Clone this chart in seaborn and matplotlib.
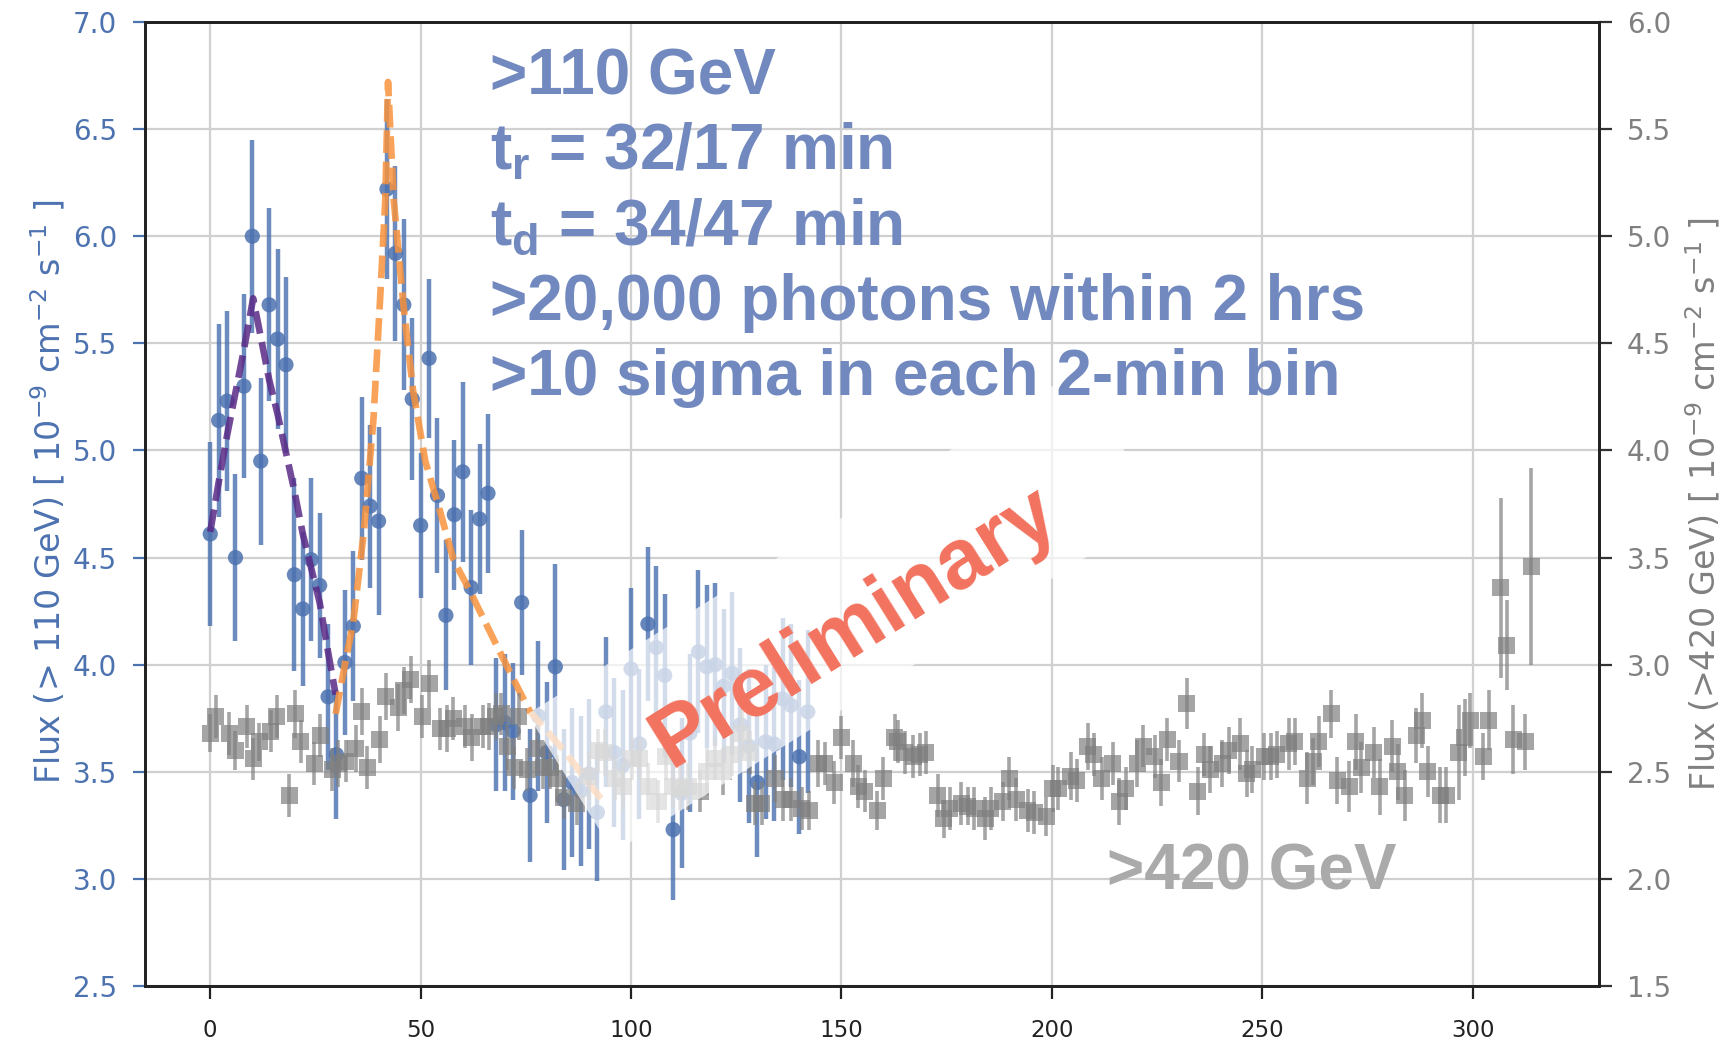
import numpy as np
import pandas as pd
import matplotlib
matplotlib.use("Agg")
import matplotlib.pyplot as plt
from matplotlib.patches import Rectangle
from matplotlib.transforms import IdentityTransform
import seaborn as sns

# ---------------- data ----------------
# >110 GeV light curve (left axis), 2-min bins
t_110 = [0, 2, 4, 6, 8, 10, 12, 14, 16, 18, 20, 22, 24, 26, 28, 30, 32, 34, 36, 38,
         40, 42, 44, 46, 48, 50, 52, 54, 56, 58, 60, 62, 64, 66, 68, 70, 72, 74, 76, 78,
         80, 82, 84, 86, 88, 90, 92, 94, 96, 98, 100, 102, 104, 106, 108, 110, 112, 114,
         116, 118, 120, 122, 124, 126, 128, 130, 132, 134, 136, 138, 140, 142]
flux_110 = [4.61, 5.14, 5.23, 4.50, 5.30, 6.00, 4.95, 5.68, 5.52, 5.40, 4.42, 4.26, 4.49,
            4.37, 3.85, 3.58, 4.01, 4.18, 4.87, 4.74, 4.67, 6.22, 5.92, 5.68, 5.24, 4.65,
            5.43, 4.79, 4.23, 4.70, 4.90, 4.36, 4.68, 4.80, 3.72, 3.73, 3.69, 4.29, 3.39,
            3.76, 3.59, 3.99, 3.37, 3.45, 3.41, 3.49, 3.31, 3.78, 3.59, 3.53, 3.98, 3.63,
            4.19, 4.08, 3.95, 3.23, 3.40, 3.68, 4.06, 3.99, 4.00, 3.90, 3.96, 3.72, 3.62,
            3.45, 3.64, 3.63, 3.84, 3.81, 3.57, 3.78]
err_110 = [0.43, 0.45, 0.42, 0.39, 0.43, 0.45, 0.39, 0.45, 0.42, 0.41, 0.45, 0.36, 0.38,
           0.34, 0.34, 0.30, 0.34, 0.35, 0.38, 0.38, 0.44, 0.42, 0.41, 0.40, 0.38, 0.34,
           0.37, 0.36, 0.35, 0.35, 0.42, 0.36, 0.35, 0.37, 0.31, 0.32, 0.32, 0.34, 0.31,
           0.35, 0.33, 0.48, 0.33, 0.35, 0.35, 0.35, 0.32, 0.35, 0.35, 0.35, 0.38, 0.35,
           0.36, 0.38, 0.38, 0.33, 0.35, 0.37, 0.38, 0.38, 0.38, 0.36, 0.38, 0.36, 0.36,
           0.35, 0.36, 0.36, 0.38, 0.38, 0.36, 0.38]

# >420 GeV light curve (right axis)
t_420 = [0.0, 1.3, 4.5, 5.9, 8.7, 10.2, 11.6, 14.4, 15.8, 18.8, 20.2, 21.5, 24.7, 26.1,
         29.0, 30.4, 32.2, 34.6, 36.0, 37.3, 40.3, 41.7, 44.7, 46.0, 47.6, 50.4, 52.0,
         54.7, 56.3, 57.7, 60.5, 62.1, 64.8, 66.2, 67.8, 69.2, 70.6, 72.2, 73.3, 75.3,
         77.7, 79.1, 80.8, 82.4, 84.0, 87.1, 89.9, 92.2, 93.8, 96.2, 98.2, 100.2, 102.1,
         104.1, 106.5, 108.3, 109.9, 111.6, 113.6, 116.4, 118.0, 119.9, 121.9, 123.9,
         126.3, 128.2, 129.4, 131.0, 134.2, 136.2, 138.1, 140.5, 142.3, 144.5, 146.0,
         148.3, 150.0, 152.8, 154.0, 155.5, 158.5, 159.9, 162.6, 163.4, 165.0, 167.0,
         168.6, 170.0, 172.9, 174.3, 175.7, 178.4, 180.0, 181.6, 184.2, 185.5, 188.3,
         189.9, 191.5, 194.2, 195.8, 198.6, 200.2, 201.5, 204.5, 205.9, 208.5, 209.9,
         211.8, 214.4, 216.0, 217.5, 220.3, 221.7, 224.4, 226.0, 227.4, 230.2, 232.0,
         234.6, 236.2, 237.6, 240.5, 242.0, 244.7, 246.3, 247.6, 250.4, 252.0, 253.4,
         256.3, 257.7, 260.7, 262.1, 263.4, 266.4, 267.8, 270.6, 272.2, 273.5, 276.5,
         277.9, 280.9, 282.2, 283.8, 286.6, 288.0, 289.3, 292.3, 293.7, 296.7, 298.1,
         299.4, 302.5, 303.8, 306.7, 308.1, 309.6, 312.5, 313.9]
flux_420 = [2.68, 2.76, 2.68, 2.60, 2.71, 2.56, 2.64, 2.69, 2.76, 2.39, 2.77, 2.64, 2.54,
            2.67, 2.51, 2.54, 2.55, 2.61, 2.78, 2.52, 2.65, 2.85, 2.80, 2.88, 2.93, 2.76,
            2.91, 2.70, 2.70, 2.75, 2.71, 2.66, 2.71, 2.71, 2.76, 2.77, 2.62, 2.52, 2.76,
            2.51, 2.61, 2.52, 2.52, 2.47, 2.38, 2.35, 2.48, 2.60, 2.59, 2.47, 2.43, 2.56,
            2.56, 2.43, 2.36, 2.57, 2.43, 2.42, 2.43, 2.41, 2.50, 2.56, 2.50, 2.58, 2.68,
            2.59, 2.35, 2.35, 2.47, 2.37, 2.37, 2.33, 2.32, 2.54, 2.54, 2.45, 2.66, 2.54,
            2.43, 2.41, 2.32, 2.47, 2.66, 2.64, 2.59, 2.57, 2.58, 2.59, 2.39, 2.28, 2.33,
            2.35, 2.34, 2.33, 2.28, 2.33, 2.36, 2.47, 2.37, 2.32, 2.31, 2.29, 2.42, 2.42,
            2.48, 2.46, 2.62, 2.58, 2.47, 2.54, 2.36, 2.42, 2.54, 2.62, 2.57, 2.45, 2.65,
            2.55, 2.82, 2.41, 2.58, 2.51, 2.54, 2.60, 2.63, 2.49, 2.51, 2.57, 2.57, 2.58,
            2.63, 2.64, 2.47, 2.55, 2.64, 2.77, 2.46, 2.43, 2.64, 2.52, 2.59, 2.43, 2.62,
            2.50, 2.39, 2.67, 2.74, 2.50, 2.39, 2.39, 2.59, 2.66, 2.74, 2.57, 2.74, 3.36,
            3.09, 2.65, 2.64, 3.46]
err_420 = [0.09, 0.10, 0.10, 0.09, 0.10, 0.10, 0.09, 0.10, 0.10, 0.10, 0.11, 0.10, 0.10,
           0.10, 0.10, 0.11, 0.10, 0.11, 0.11, 0.10, 0.11, 0.11, 0.11, 0.11, 0.11, 0.10,
           0.11, 0.10, 0.11, 0.10, 0.10, 0.11, 0.10, 0.11, 0.11, 0.10, 0.11, 0.10, 0.11,
           0.10, 0.11, 0.10, 0.10, 0.11, 0.10, 0.10, 0.11, 0.10, 0.11, 0.10, 0.11, 0.10,
           0.10, 0.11, 0.10, 0.11, 0.10, 0.10, 0.11, 0.10, 0.11, 0.10, 0.11, 0.10, 0.11,
           0.10, 0.10, 0.10, 0.11, 0.10, 0.10, 0.10, 0.09, 0.11, 0.10, 0.10, 0.10, 0.11,
           0.10, 0.10, 0.09, 0.10, 0.11, 0.10, 0.10, 0.10, 0.10, 0.10, 0.10, 0.09, 0.10,
           0.10, 0.09, 0.10, 0.10, 0.10, 0.09, 0.10, 0.10, 0.10, 0.10, 0.09, 0.11, 0.10,
           0.11, 0.10, 0.11, 0.10, 0.10, 0.10, 0.11, 0.10, 0.11, 0.10, 0.10, 0.11, 0.10,
           0.10, 0.12, 0.11, 0.10, 0.11, 0.11, 0.11, 0.12, 0.11, 0.11, 0.11, 0.11, 0.11,
           0.12, 0.11, 0.12, 0.11, 0.12, 0.11, 0.11, 0.12, 0.13, 0.12, 0.12, 0.13, 0.12,
           0.13, 0.12, 0.13, 0.13, 0.12, 0.13, 0.13, 0.22, 0.18, 0.13, 0.11, 0.14, 0.42,
           0.21, 0.16, 0.13, 0.46]

# fitted flare profiles
fit1_t = [0, 2, 4, 6, 8, 10.2, 12, 14, 16, 18, 20, 22, 24, 26, 28, 29.8]
fit1_f = [4.62, 4.85, 5.07, 5.27, 5.47, 5.71, 5.53, 5.33, 5.17, 4.99, 4.81, 4.61, 4.45,
          4.29, 4.06, 3.86]
fit2_t = [29.8, 32, 34, 36.5, 38.8, 40.4, 41.6, 42.25, 43.6, 46.0, 48.2, 51.1, 54.7,
          57.8, 61.8, 67.3, 72.1, 76.0, 84.0, 93.4]
fit2_f = [3.77, 4.00, 4.20, 4.62, 5.15, 5.72, 6.17, 6.72, 6.17, 5.66, 5.28, 4.95, 4.71,
          4.49, 4.34, 4.12, 3.93, 3.78, 3.60, 3.36]

x_ticks = [0, 50, 100, 150, 200, 250, 300]
left_ticks = [2.5, 3.0, 3.5, 4.0, 4.5, 5.0, 5.5, 6.0, 6.5, 7.0]
right_ticks = [1.5, 2.0, 2.5, 3.0, 3.5, 4.0, 4.5, 5.0, 5.5, 6.0]

info_lines = [">110 GeV", "t$_\\mathregular{r}$ = 32/17 min", "t$_\\mathregular{d}$ = 34/47 min",
              ">20,000 photons within 2 hrs", ">10 sigma in each 2-min bin"]

# ---------------- styling ----------------
sns.set_theme(style="ticks")
plt.rcParams["font.family"] = ["DejaVu Sans"]
plt.rcParams["mathtext.fontset"] = "dejavusans"

BLUE = "#4C72B0"
GRAY = "#7f7f7f"
TXT_BLUE = "#7189BF"
PURPLE = "#5a2a86"
ORANGE = "#F8923C"

W, H = 1727, 1041
fig = plt.figure(figsize=(W / 100, H / 100), dpi=100)
ax1 = fig.add_axes([145 / W, 1 - 986 / H, (1599 - 145) / W, (986 - 22) / H])
ax2 = ax1.twinx()

df_hi = pd.DataFrame({"t": t_110, "flux": flux_110, "err": err_110})
df_vhe = pd.DataFrame({"t": t_420, "flux": flux_420, "err": err_420})
df_f1 = pd.DataFrame({"t": fit1_t, "flux": fit1_f})
df_f2 = pd.DataFrame({"t": fit2_t, "flux": fit2_f})

# >110 GeV points
ax1.errorbar(df_hi["t"], df_hi["flux"], yerr=df_hi["err"], fmt="none", ecolor=BLUE,
             elinewidth=3.2, alpha=0.82, zorder=3)
sns.scatterplot(data=df_hi, x="t", y="flux", ax=ax1, color=BLUE, s=120, alpha=0.85,
                edgecolor="none", zorder=4, legend=False)

# fits
sns.lineplot(data=df_f1, x="t", y="flux", ax=ax1, color=PURPLE, lw=4.8, alpha=0.85,
             zorder=5, sort=False, estimator=None)
ax1.lines[-1].set_linestyle((0, (3.4, 1.3)))
sns.lineplot(data=df_f2, x="t", y="flux", ax=ax1, color=ORANGE, lw=4.8, alpha=0.85,
             zorder=5, sort=False, estimator=None)
ax1.lines[-1].set_linestyle((0, (3.4, 1.3)))

# >420 GeV points
ax2.errorbar(df_vhe["t"], df_vhe["flux"], yerr=df_vhe["err"], fmt="none", ecolor=GRAY,
             elinewidth=2.6, alpha=0.7, zorder=3)
sns.scatterplot(data=df_vhe, x="t", y="flux", ax=ax2, color=GRAY, marker="s", s=150,
                alpha=0.7, edgecolor="none", zorder=4, legend=False)

# axes limits / ticks
ax1.set_xlim(-15.5, 330)
ax1.set_ylim(2.5, 7.0)
ax2.set_ylim(1.5, 6.0)
ax1.set_xticks(x_ticks)
ax1.set_yticks(left_ticks)
ax2.set_yticks(right_ticks)
ax1.set_yticklabels([f"{v:.1f}" for v in left_ticks])
ax2.set_yticklabels([f"{v:.1f}" for v in right_ticks])
ax1.grid(True, color="#d0d0d0", lw=1.6)
ax1.set_axisbelow(True)

ax1.tick_params(axis="y", colors=BLUE, labelsize=20, length=9, width=1.6, pad=11)
ax1.tick_params(axis="x", colors="#222222", labelsize=16.5, length=9, width=1.6, pad=15)
ax2.tick_params(axis="y", colors="#333333", labelcolor="#808080", labelsize=20, length=9,
                width=1.6, pad=11)
for ax in (ax1, ax2):
    for s in ax.spines.values():
        s.set_color("#222222")
        s.set_linewidth(2.0)

ax1.set_xlabel("")
ax1.set_ylabel(r"Flux (> 110 GeV) [ 10$^{-9}$ cm$^{-2}$ s$^{-1}$ ]", color=BLUE, fontsize=24,
               labelpad=4)
ax1.yaxis.label.set_y(0.513)
ax2.set_ylabel(r"Flux (>420 GeV) [ 10$^{-9}$ cm$^{-2}$ s$^{-1}$ ]", color="#808080",
               fontsize=24, labelpad=9)

# annotation text
bold_font = ["Liberation Sans", "DejaVu Sans"]
baselines = [6.66, 6.31, 5.96, 5.61, 5.26]
for line, yb in zip(info_lines, baselines):
    ax2.text(66.5, yb, line, transform=ax1.transData, family=bold_font, weight="bold",
             fontsize=46, color=TXT_BLUE, ha="left", va="baseline", zorder=16)

ax2.text(213, 2.95, ">420 GeV", transform=ax1.transData, family=bold_font, weight="bold",
         fontsize=46, color="#aaaaaa", ha="left", va="baseline", zorder=16)

# translucent white band behind the "Preliminary" stamp
cx, cy = ax1.transData.transform((150.7, 4.245))
bw, bh = 646, 163
band = Rectangle((cx - bw / 2, cy - bh / 2), bw, bh, angle=32, rotation_point="center",
                 transform=IdentityTransform(), fc="white", ec="none", alpha=0.7,
                 zorder=14, clip_on=False)
ax2.add_artist(band)

ax2.text(153.1, 4.17, "Preliminary", transform=ax1.transData, family=bold_font,
         weight="bold", fontsize=61, color="#F2735F", ha="center", va="center",
         rotation=32, rotation_mode="anchor", zorder=15)

fig.savefig("out.png", dpi=100)
